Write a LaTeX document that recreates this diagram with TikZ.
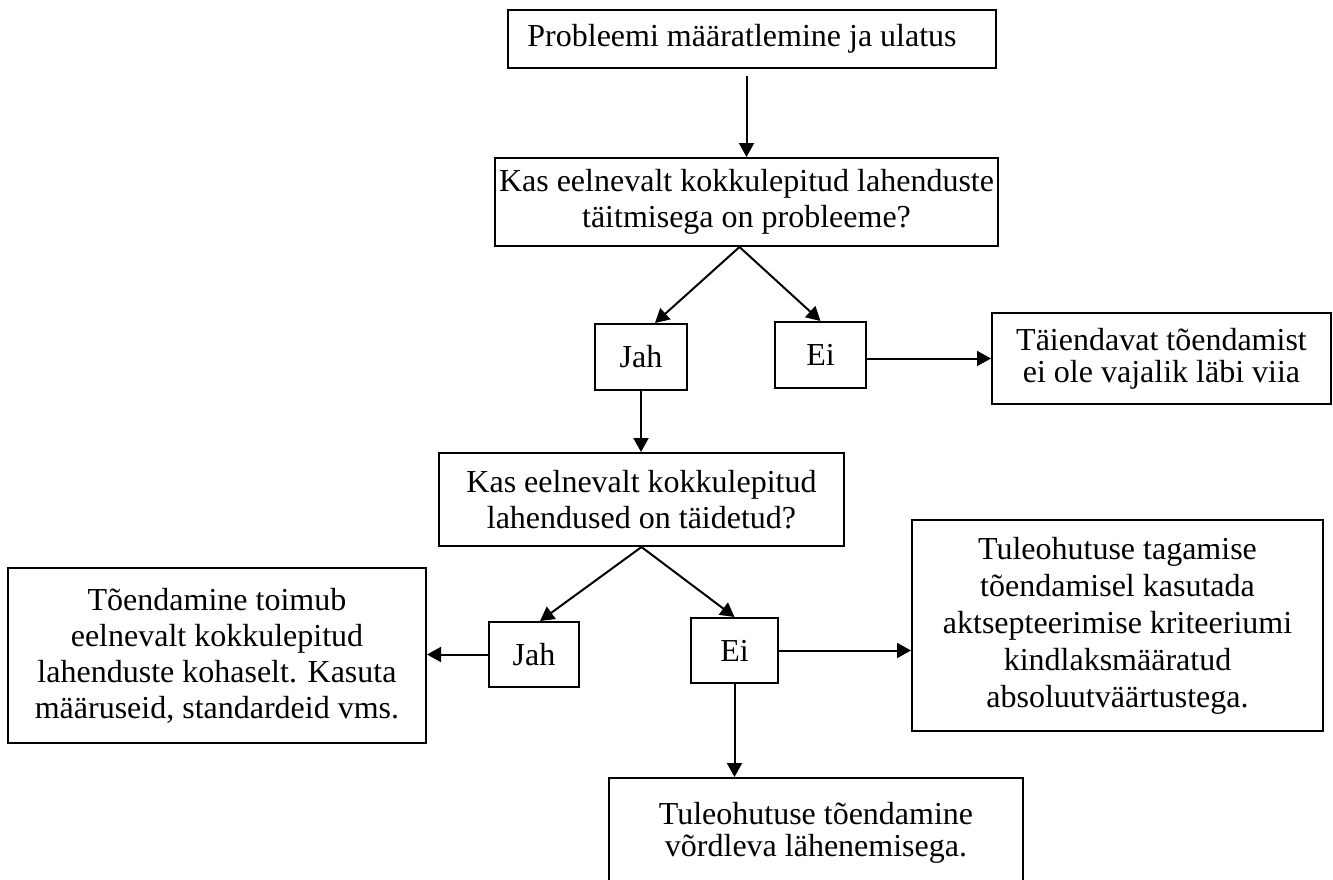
\documentclass[tikz,border=0pt]{standalone}
\usepackage{fontspec}
\setmainfont{Liberation Serif}
\usetikzlibrary{arrows.meta,calc}

\begin{document}
\begin{tikzpicture}[x=0.5pt,y=-0.5pt,
	box/.style={draw, line width=1pt, align=center, inner sep=0pt, font=\fontsize{16}{18}\selectfont},
	tight/.style={font=\fontsize{16}{16}\selectfont},
	arr/.style={-{Triangle[length=7pt,width=7.5pt]}, line width=1pt}]

	% Frame
	\clip (0,0) rectangle (1333,879);

	% Boxes
	\node[box, minimum width=244pt, minimum height=29pt] (problem) at (752,39) {Probleemi määratlemine ja ulatus\hspace{10pt}};
	\node[box, minimum width=251.5pt, minimum height=44pt] (check1) at (746.5,202) {Kas eelnevalt kokkulepitud lahenduste\\täitmisega on probleeme?};
	\node[box, minimum width=46pt, minimum height=33pt] (yes1) at (641,357) {Jah};
	\node[box, minimum width=45.5pt, minimum height=33pt] (no1) at (820.5,355) {Ei};
	\node[box, tight, minimum width=169.5pt, minimum height=45.5pt] (noproof) at (1161.5,358.5) {Täiendavat tõendamist\\ei ole vajalik läbi viia};
	\node[box, minimum width=202.5pt, minimum height=46.5pt] (check2) at (641.5,499.5) {Kas eelnevalt kokkulepitud\\lahendused on täidetud?};
	\node[box, minimum width=45pt, minimum height=32.5pt] (yes2) at (534,654.5) {Jah};
	\node[box, minimum width=43.5pt, minimum height=32.5pt] (no2) at (734.5,650.5) {Ei};
	\node[box, minimum width=209pt, minimum height=87.5pt] (direct) at (217,655.5) {Tõendamine toimub\\eelnevalt kokkulepitud\\lahenduste kohaselt. Kasuta\\määruseid, standardeid vms.};
	\node[box, font=\fontsize{16}{18.5}\selectfont, minimum width=205.5pt, minimum height=105.5pt] (absolute) at (1117.5,625.5) {Tuleohutuse tagamise\\tõendamisel kasutada\\aktsepteerimise kriteeriumi\\kindlaksmääratud\\absoluutväärtustega.};
	\node[box, tight, minimum width=207pt, minimum height=55pt] (compare) at (816,833) {Tuleohutuse tõendamine\\võrdleva lähenemisega.};

	% Arrows
	\draw[arr, shorten <=3.5pt] (problem.south -| check1.north) -- (check1.north);
	\draw[arr] ($(check1.south)+(-7,0)$) -- ($(yes1.north)+(14,0)$);
	\draw[arr] ($(check1.south)+(-7,0)$) -- (no1.north);
	\draw[arr] (no1.east |- noproof.west) -- (noproof.west);
	\draw[arr] (yes1.south) -- (yes1.south |- check2.north);
	\draw[arr] (check2.south) -- ($(yes2.north)+(6,0)$);
	\draw[arr] (check2.south) -- (no2.north);
	\draw[arr] (yes2.west) -- (yes2.west -| direct.east);
	\draw[arr] (no2.east) -- (no2.east -| absolute.west);
	\draw[arr] (no2.south) -- (no2.south |- compare.north);
\end{tikzpicture}
\end{document}
